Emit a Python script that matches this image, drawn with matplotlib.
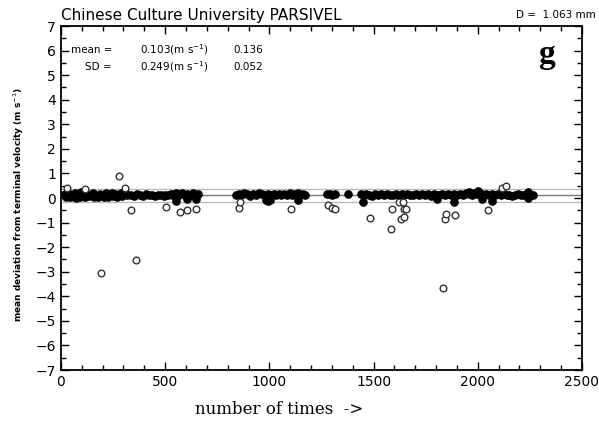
import numpy as np
import matplotlib.pyplot as plt
from matplotlib.ticker import MultipleLocator

# statistics printed on the panel
mean_dev = 0.103
sd_dev = 0.249
mean_rel = 0.136
sd_rel = 0.052
diameter = 1.063

# filled points: runs of samples close to terminal velocity
run1_x = [20, 35, 50, 65, 80, 95, 110, 125, 140, 155, 170, 185, 200, 215, 230, 245, 260, 275, 290, 305, 315,
          25, 45, 70, 90, 115, 135, 160, 180, 205, 225, 250, 270, 295]
run1_y = [0.15, 0.22, 0.10, 0.20, 0.12, 0.24, 0.08, 0.18, 0.14, 0.21, 0.09, 0.17, 0.13, 0.19, 0.11, 0.22, 0.16, 0.12, 0.20, 0.25, 0.14,
          0.03, 0.05, 0.02, 0.06, 0.04, 0.07, 0.03, 0.05, 0.06, 0.04, 0.08, 0.05, 0.07]
run2_x = [338, 352, 366, 380, 394, 408, 422, 436, 450, 464, 478, 492, 499]
run2_y = [0.14, 0.10, 0.16, 0.12, 0.09, 0.15, 0.11, 0.13, 0.10, 0.14, 0.12, 0.09, 0.13]
run3_x = [515, 528, 541, 554, 567, 580, 593, 606, 619, 632, 645, 656, 552, 606, 646]
run3_y = [0.12, 0.16, 0.10, 0.19, 0.13, 0.22, 0.11, 0.17, 0.14, 0.20, 0.12, 0.15, -0.12, -0.05, -0.06]
run4_x = [838, 852, 866, 880, 894, 908, 922, 936, 950, 964, 978, 992, 1006, 1020, 1034, 985, 995, 1005]
run4_y = [0.14, 0.18, 0.12, 0.20, 0.15, 0.10, 0.17, 0.13, 0.19, 0.15, 0.12, 0.18, 0.14, 0.16, 0.11, -0.08, -0.14, -0.10]
run5_x = [1045, 1058, 1071, 1084, 1097, 1110, 1123, 1136, 1149, 1162, 1172, 1139]
run5_y = [0.15, 0.11, 0.18, 0.14, 0.20, 0.12, 0.16, 0.21, 0.13, 0.17, 0.14, -0.10]
run6_x = [1278, 1290, 1302, 1314, 1379]
run6_y = [0.15, 0.17, 0.14, 0.16, 0.16]
run7_x = [1438, 1452, 1466, 1480, 1494, 1508, 1522, 1536, 1550, 1564, 1578, 1592, 1606, 1620, 1634,
          1648, 1662, 1676, 1690, 1704, 1718, 1732, 1746, 1760, 1774, 1788, 1802, 1816, 1830, 1844,
          1858, 1872, 1886, 1900, 1914, 1928, 1942, 1956, 1970, 1984, 1998, 2012, 2026, 2040, 2054,
          2068, 2082, 2096, 2110, 2124, 2138, 2152, 2166, 2180, 2194, 2208, 2222, 2236, 2250, 2264,
          1451, 1803, 1888, 2019, 2067, 2240, 2243, 2000, 1960]
run7_y = [0.16, 0.12, 0.18, 0.14, 0.10, 0.17, 0.13, 0.15, 0.11, 0.18, 0.14, 0.12, 0.16, 0.10, 0.15,
          0.13, 0.17, 0.11, 0.14, 0.16, 0.12, 0.18, 0.13, 0.15, 0.10, 0.17, 0.14, 0.12, 0.16, 0.13,
          0.15, 0.11, 0.18, 0.14, 0.16, 0.12, 0.19, 0.15, 0.13, 0.20, 0.16, 0.22, 0.12, 0.18, 0.14,
          0.17, 0.11, 0.15, 0.13, 0.16, 0.12, 0.14, 0.10, 0.13, 0.15, 0.11, 0.14, 0.16, 0.12, 0.13,
          -0.15, -0.05, -0.15, -0.04, -0.12, 0.00, 0.26, 0.28, 0.24]

# open circles: samples deviating from the band
open_x = [30, 115, 280, 307, 336, 190, 358, 504, 571, 603, 646, 853, 859, 1102, 1283, 1299, 1315,
          1483, 1582, 1590, 1624, 1640, 1631, 1644, 1646, 1656, 1834, 1843, 1848, 1891, 2051, 2115, 2136]
open_y = [0.42, 0.37, 0.91, 0.42, -0.49, -3.04, -2.52, -0.38, -0.56, -0.49, -0.45, -0.42, -0.18, -0.46, -0.28, -0.39, -0.43,
          -0.83, -1.26, -0.46, -0.15, -0.15, -0.87, -0.76, -0.46, -0.46, -3.66, -0.85, -0.66, -0.69, -0.49, 0.39, 0.49]

filled_x = run1_x + run2_x + run3_x + run4_x + run5_x + run6_x + run7_x
filled_y = run1_y + run2_y + run3_y + run4_y + run5_y + run6_y + run7_y

fig = plt.figure(figsize=(5.99, 4.30), dpi=100)
ax = fig.add_axes([0.1018, 0.1395, 0.8698, 0.80])

# mean and +/- SD reference lines
ax.axhline(mean_dev, color="#777777", lw=1.0, zorder=1)
ax.axhline(mean_dev + sd_dev, color="#bbbbbb", lw=1.0, zorder=1)
ax.axhline(mean_dev - sd_dev, color="#bbbbbb", lw=1.0, zorder=1)

ax.plot(filled_x, filled_y, linestyle="", marker="o", ms=5.2, color="black", zorder=3)
ax.plot(open_x, open_y, linestyle="", marker="o", ms=4.8, mfc="white", mec="#333333", mew=1.0, zorder=4)

ax.set_xlim(0, 2500)
ax.set_ylim(-7, 7)
ax.xaxis.set_major_locator(MultipleLocator(500))
ax.xaxis.set_minor_locator(MultipleLocator(100))
ax.yaxis.set_major_locator(MultipleLocator(1))
ax.yaxis.set_minor_locator(MultipleLocator(0.5))
ax.tick_params(which="both", direction="in", top=True, right=True, width=1.0, labelsize=10)
ax.tick_params(which="major", length=6)
ax.tick_params(which="minor", length=3.5)
for sp in ax.spines.values():
    sp.set_linewidth(1.3)

ax.set_xlabel("number of times  ->", family="DejaVu Serif", fontsize=12)
ax.xaxis.set_label_coords(0.418, -0.09)
ax.set_ylabel("mean deviation from terminal velocity (m s$^{-1}$)", fontsize=6.5,
              fontweight="bold")
ax.yaxis.set_label_coords(-0.068, 0.48)

ax.text(245, 6.02, "mean =", ha="right", va="center", fontsize=7.5)
ax.text(380, 6.02, f"{mean_dev:.3f}(m s$^{{-1}}$)", ha="left", va="center", fontsize=7.5)
ax.text(826, 6.02, f"{mean_rel:.3f}", ha="left", va="center", fontsize=7.5)
ax.text(245, 5.33, "SD =", ha="right", va="center", fontsize=7.5)
ax.text(380, 5.33, f"{sd_dev:.3f}(m s$^{{-1}}$)", ha="left", va="center", fontsize=7.5)
ax.text(826, 5.33, f"{sd_rel:.3f}", ha="left", va="center", fontsize=7.5)
ax.text(2330, 5.85, "g", ha="center", va="center", fontsize=24, fontweight="bold",
        family="Liberation Serif")

fig.text(0.1018, 0.965, "Chinese Culture University PARSIVEL", ha="left", va="center", fontsize=11)
fig.text(0.995, 0.965, f"D =  {diameter:.3f} mm", ha="right", va="center", fontsize=7.5)

fig.savefig("out.png", dpi=100)
